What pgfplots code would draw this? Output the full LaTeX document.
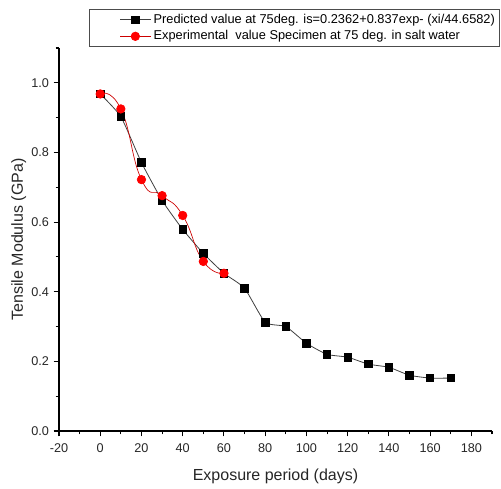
\documentclass[border=0pt]{standalone}
\usepackage{fontspec}
\setmainfont{Liberation Sans}
\usepackage{pgfplots}
\pgfplotsset{compat=1.18}

\begin{document}
\begin{tikzpicture}
\begin{axis}[
  scale only axis,
  width=324.75pt, height=287.25pt,
  xmin=-20, xmax=190, ymin=0, ymax=1.1,
  axis x line*=bottom, axis y line*=left,
  axis line style={-, line width=0.8pt},
  xtick={-20,0,...,180}, ytick={0,0.2,...,1.0},
  minor xtick={-10,10,...,190}, minor ytick={0.1,0.3,...,1.1},
  tick align=outside,
  major tick length=4pt, minor tick length=2.5pt,
  tick style={line width=0.8pt, black},
  yticklabel style={/pgf/number format/.cd, fixed, fixed zerofill, precision=1},
  xticklabel style={yshift=-2pt},
  /pgf/number format/assume math mode=true,
  tick label style={font=\fontsize{9.5}{10}\selectfont, color=black!85},
  xlabel={Exposure period (days)},
  ylabel={Tensile Modulus (GPa)},
  label style={font=\fontsize{12}{13}\selectfont, color=black!85},
  xlabel style={yshift=-5pt},
  ylabel style={yshift=-3pt},
  legend style={at={(1.0185,1.1018)}, anchor=north east,
    font=\fontsize{9.6}{11}\selectfont, draw=black!70, line width=0.6pt,
    inner sep=1.5pt, row sep=0pt, cells={anchor=west}},
  legend image code/.code={
    \path (-0.75cm,0cm);
    \draw[mark repeat=2,mark phase=2,#1] plot coordinates {(0cm,0cm)(0.4cm,0cm)(0.8cm,0cm)};
  },
]
\addplot[black!75, line width=0.6pt, smooth, tension=0.3,
  mark=square*, mark size=2.8pt, mark options={fill=black, draw=black, solid}]
  coordinates {
  (0,0.968) (10,0.903) (20,0.771) (30,0.662) (40,0.579) (50,0.510)
  (60,0.453) (70,0.410) (80,0.312) (90,0.300) (100,0.252) (110,0.220)
  (120,0.212) (130,0.192) (140,0.183) (150,0.160) (160,0.152) (170,0.152)
  };
\addlegendentry{Predicted value at 75deg. is=0.2362+0.837exp- (xi/44.6582)}
\addplot[red!80!black, line width=0.5pt, smooth, tension=0.9,
  mark=*, mark size=3.2pt, mark options={fill=red, draw=red, solid}]
  coordinates {
  (0,0.968) (10,0.925) (20,0.722) (30,0.676) (40,0.619) (50,0.487) (60,0.453)
  };
\addlegendentry{Experimental\ \ value Specimen at 75 deg. in salt water}
\end{axis}
\pgfresetboundingbox
\path[use as bounding box] (-44.25pt,-43.5pt) rectangle (331.5pt,323.25pt);
\end{tikzpicture}
\end{document}
